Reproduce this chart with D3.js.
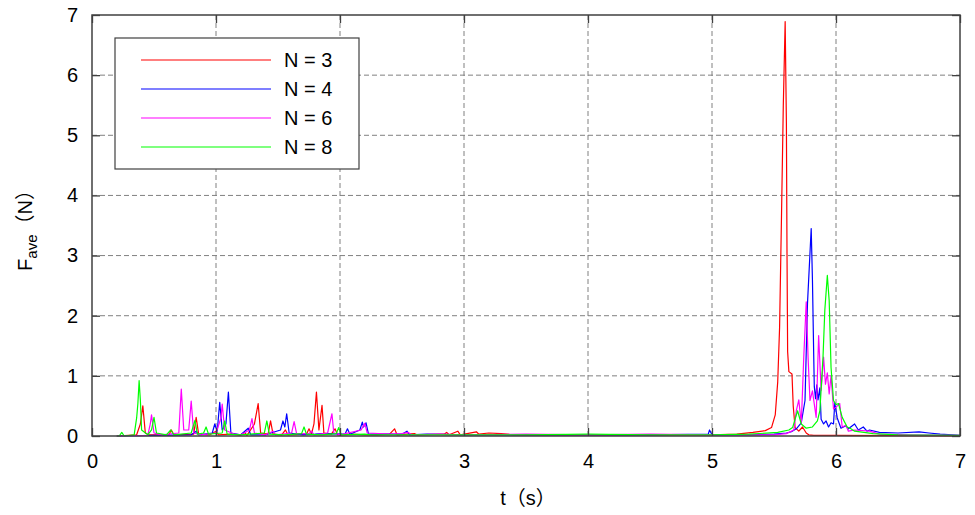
<!DOCTYPE html>
<html>
<head>
  <meta charset="utf-8">
  <script src="https://cdnjs.cloudflare.com/ajax/libs/d3/7.8.5/d3.min.js"></script>
  <style>
    body { margin: 0; background: #fff; }
    text { font-family: "Liberation Sans", Arial, "Noto Sans CJK SC", sans-serif; }
  </style>
</head>
<body>
  <div id="chart"></div>

  <script>
    // series: [t (s), F_ave (N)]
    const seriesNames = ['N = 3', 'N = 4', 'N = 6', 'N = 8'];
    const seriesColors = ['#ff0000', '#0000ff', '#ff00ff', '#00ff00'];

    const n3 = [[0.2,0],[0.36,0.02],[0.39,0.2],[0.41,0.5],[0.43,0.05],[0.46,0.02],[0.62,0.02],[0.64,0.1],[0.66,0.02],
      [0.82,0.03],[0.84,0.31],[0.86,0.03],[0.95,0.02],[1.0,0.08],[1.02,0.02],[1.12,0.03],[1.2,0.02],[1.23,0.06],[1.25,0.01],
      [1.31,0.2],[1.34,0.54],[1.36,0.05],[1.42,0.03],[1.44,0.25],[1.46,0.03],[1.53,0.02],[1.56,0.1],[1.58,0.02],[1.73,0.03],
      [1.75,0.12],[1.77,0.03],[1.79,0.2],[1.81,0.73],[1.83,0.1],[1.855,0.51],[1.87,0.05],[1.93,0.03],[1.96,0.12],[1.98,0.02],
      [2.1,0.03],[2.2,0.02],[2.3,0.02],[2.4,0.03],[2.44,0.12],[2.46,0.02],[2.6,0.04],[2.62,0.02],[2.84,0.03],[2.86,0.06],
      [2.88,0.02],[2.95,0.08],[2.97,0.02],[3.1,0.07],[3.12,0.03],[3.2,0.05],[3.3,0.04],[3.4,0.02],[4.0,0.015],[4.5,0.02],
      [5.0,0.02],[5.2,0.03],[5.33,0.06],[5.43,0.09],[5.48,0.14],[5.51,0.35],[5.53,0.9],[5.545,1.8],[5.56,3.6],[5.575,5.5],
      [5.59,6.89],[5.6,5.2],[5.605,3.0],[5.61,1.4],[5.62,1.07],[5.645,1.03],[5.655,0.5],[5.67,0.14],[5.7,0.08],[5.73,0.15],
      [5.76,0.05],[5.78,0.02],[5.82,0.01],[6.0,0.01],[6.5,0.005],[7,0.0]];

    const n4 = [[0.2,0],[0.5,0.01],[0.8,0.02],[0.84,0.08],[0.86,0.02],[0.97,0.05],[0.99,0.2],[1.01,0.08],[1.03,0.56],
      [1.05,0.1],[1.08,0.2],[1.10,0.73],[1.12,0.05],[1.2,0.02],[1.26,0.13],[1.28,0.02],[1.4,0.02],[1.52,0.1],[1.54,0.25],
      [1.555,0.15],[1.57,0.37],[1.59,0.05],[1.7,0.02],[1.8,0.03],[1.85,0.04],[2.04,0.03],[2.06,0.12],[2.08,0.03],[2.16,0.1],
      [2.18,0.23],[2.19,0.15],[2.21,0.22],[2.23,0.03],[2.5,0.03],[2.54,0.08],[2.56,0.02],[2.7,0.03],[3.0,0.02],[3.5,0.02],
      [4.0,0.02],[4.5,0.02],[4.97,0.03],[4.98,0.1],[5.0,0.02],[5.3,0.02],[5.5,0.03],[5.6,0.05],[5.64,0.07],[5.68,0.12],
      [5.72,0.22],[5.75,0.59],[5.77,2.2],[5.8,3.45],[5.81,2.6],[5.82,1.37],[5.825,0.82],[5.835,0.62],[5.845,0.85],
      [5.855,0.6],[5.87,0.8],[5.88,0.28],[5.9,0.2],[5.92,0.25],[5.94,0.15],[5.96,0.22],[5.98,0.2],[5.99,0.55],[6.01,0.3],
      [6.04,0.13],[6.08,0.17],[6.1,0.12],[6.15,0.2],[6.18,0.1],[6.22,0.15],[6.25,0.08],[6.27,0.1],[6.35,0.06],[6.5,0.05],
      [6.67,0.07],[6.75,0.05],[6.84,0.03],[7,0.01]];

    const n6 = [[0.2,0],[0.45,0.01],[0.47,0.2],[0.48,0.35],[0.5,0.05],[0.56,0.02],[0.7,0.05],[0.72,0.78],[0.74,0.1],
      [0.78,0.1],[0.80,0.58],[0.82,0.05],[0.88,0.02],[1.0,0.05],[1.04,0.3],[1.05,0.53],[1.07,0.1],[1.15,0.03],[1.2,0.02],
      [1.27,0.1],[1.29,0.29],[1.31,0.05],[1.4,0.02],[1.46,0.08],[1.48,0.02],[1.61,0.05],[1.63,0.24],[1.65,0.04],[1.75,0.04],
      [1.77,0.08],[1.79,0.02],[1.9,0.05],[1.935,0.37],[1.95,0.05],[2.0,0.02],[2.17,0.1],[2.2,0.21],[2.22,0.05],[2.4,0.03],
      [2.5,0.04],[2.55,0.06],[2.58,0.02],[2.8,0.03],[3,0.02],[3.5,0.03],[4.0,0.02],[4.5,0.03],[5.0,0.02],[5.3,0.02],
      [5.5,0.02],[5.6,0.04],[5.66,0.1],[5.68,0.42],[5.7,0.6],[5.72,0.2],[5.74,1.31],[5.76,2.23],[5.775,1.3],[5.79,0.59],
      [5.81,0.75],[5.84,0.31],[5.86,1.67],[5.88,0.76],[5.9,1.31],[5.915,0.86],[5.93,1.05],[5.945,0.7],[5.96,1.0],
      [5.98,0.45],[6.0,0.48],[6.03,0.54],[6.05,0.15],[6.08,0.18],[6.1,0.08],[6.15,0.1],[6.27,0.08],[6.35,0.03],[6.6,0.02],
      [7,0.01]];

    const n8 = [[0.2,0],[0.22,0.0],[0.24,0.06],[0.26,0],[0.34,0.02],[0.36,0.3],[0.37,0.54],[0.38,0.92],[0.39,0.6],
      [0.40,0.1],[0.45,0.02],[0.48,0.1],[0.5,0.31],[0.52,0.05],[0.6,0.02],[0.635,0.1],[0.66,0.02],[0.8,0.05],[0.83,0.26],
      [0.85,0.03],[0.9,0.05],[0.92,0.15],[0.94,0.03],[1.05,0.05],[1.07,0.25],[1.09,0.03],[1.2,0.02],[1.39,0.05],[1.41,0.25],
      [1.43,0.03],[1.55,0.02],[1.69,0.04],[1.71,0.15],[1.73,0.03],[1.85,0.02],[1.97,0.04],[1.99,0.14],[2.01,0.02],
      [2.2,0.03],[2.25,0.02],[2.5,0.02],[3,0.02],[3.5,0.02],[4,0.03],[4.5,0.02],[5,0.02],[5.3,0.03],[5.53,0.06],[5.62,0.1],
      [5.65,0.14],[5.69,0.42],[5.72,0.2],[5.76,0.13],[5.81,0.15],[5.85,0.25],[5.87,0.42],[5.895,1.3],[5.91,2.1],
      [5.93,2.67],[5.945,2.25],[5.96,1.14],[5.98,0.59],[6.0,0.52],[6.02,0.54],[6.05,0.31],[6.09,0.15],[6.12,0.12],
      [6.15,0.08],[6.3,0.04],[6.5,0.02],[7,0.01]];

    const allSeries = [n3, n4, n6, n8];
    const xTicks = [0, 1, 2, 3, 4, 5, 6, 7];
    const yTicks = [0, 1, 2, 3, 4, 5, 6, 7];

    const width = 975;
    const height = 515;
    const margin = { top: 15, right: 15, bottom: 79, left: 92 };
    const innerW = width - margin.left - margin.right;
    const innerH = height - margin.top - margin.bottom;

    const svg = d3.select('#chart').append('svg')
      .attr('width', width)
      .attr('height', height);

    const x = d3.scaleLinear().domain([0, 7]).range([margin.left, margin.left + innerW]);
    const y = d3.scaleLinear().domain([0, 7]).range([margin.top + innerH, margin.top]);

    // grid
    const grid = svg.append('g')
      .attr('stroke', '#808080')
      .attr('stroke-width', 1)
      .attr('stroke-dasharray', '5,3');
    grid.selectAll('.gx').data(xTicks.slice(1, -1)).join('line')
      .attr('x1', d => x(d)).attr('x2', d => x(d))
      .attr('y1', y(0)).attr('y2', y(7));
    grid.selectAll('.gy').data(yTicks.slice(1, -1)).join('line')
      .attr('x1', x(0)).attr('x2', x(7))
      .attr('y1', d => y(d)).attr('y2', d => y(d));

    // data lines
    const line = d3.line().x(d => x(d[0])).y(d => y(d[1]));
    svg.append('g').selectAll('path').data(allSeries).join('path')
      .attr('fill', 'none')
      .attr('stroke', (d, i) => seriesColors[i])
      .attr('stroke-width', 1.2)
      .attr('stroke-linejoin', 'round')
      .attr('d', line);

    // axes: ticks pointing inward on all four sides
    const frameColor = '#404040';
    const fmt = d3.format('d');
    const axB = svg.append('g').attr('transform', `translate(0,${y(0)})`)
      .call(d3.axisBottom(x).tickValues(xTicks).tickSize(-8).tickPadding(18).tickFormat(fmt));
    const axT = svg.append('g').attr('transform', `translate(0,${y(7)})`)
      .call(d3.axisTop(x).tickValues(xTicks).tickSize(-8).tickFormat(''));
    const axL = svg.append('g').attr('transform', `translate(${x(0)},0)`)
      .call(d3.axisLeft(y).tickValues(yTicks).tickSize(-8).tickPadding(14).tickFormat(fmt));
    const axR = svg.append('g').attr('transform', `translate(${x(7)},0)`)
      .call(d3.axisRight(y).tickValues(yTicks).tickSize(-8).tickFormat(''));

    [axB, axT, axL, axR].forEach(g => {
      g.select('.domain').remove();
      g.selectAll('line').attr('stroke', frameColor).attr('stroke-width', 1.3);
      g.selectAll('text').attr('font-size', 20).attr('fill', '#000')
        .style('font-family', '"Liberation Sans", Arial, sans-serif');
    });

    svg.append('rect')
      .attr('x', x(0)).attr('y', y(7))
      .attr('width', x(7) - x(0)).attr('height', y(0) - y(7))
      .attr('fill', 'none')
      .attr('stroke', frameColor)
      .attr('stroke-width', 1.5);

    // legend
    const lg = svg.append('g').attr('transform', 'translate(115,38)');
    lg.append('rect')
      .attr('width', 244).attr('height', 131)
      .attr('fill', '#fff')
      .attr('stroke', frameColor)
      .attr('stroke-width', 1.2);
    const rows = lg.selectAll('.row').data(seriesNames).join('g')
      .attr('transform', (d, i) => `translate(0,${22 + i * 29})`);
    rows.append('line')
      .attr('x1', 26).attr('x2', 156)
      .attr('stroke', (d, i) => seriesColors[i])
      .attr('stroke-width', 1.2);
    rows.append('text')
      .attr('x', 169).attr('dy', '0.36em')
      .attr('font-size', 20)
      .text(d => d);

    // axis titles
    svg.append('text')
      .attr('x', (x(0) + x(7)) / 2 + 2).attr('y', 505)
      .attr('text-anchor', 'middle')
      .attr('font-size', 20)
      .text('t（s）');

    const yl = svg.append('text')
      .attr('transform', `translate(32,${(y(0) + y(7)) / 2}) rotate(-90)`)
      .attr('text-anchor', 'middle')
      .attr('font-size', 20);
    yl.append('tspan').text('F');
    yl.append('tspan').attr('font-size', 15).attr('dy', 5).text('ave');
    yl.append('tspan').attr('dy', -5).text('（N）');
  </script>
</body>
</html>
